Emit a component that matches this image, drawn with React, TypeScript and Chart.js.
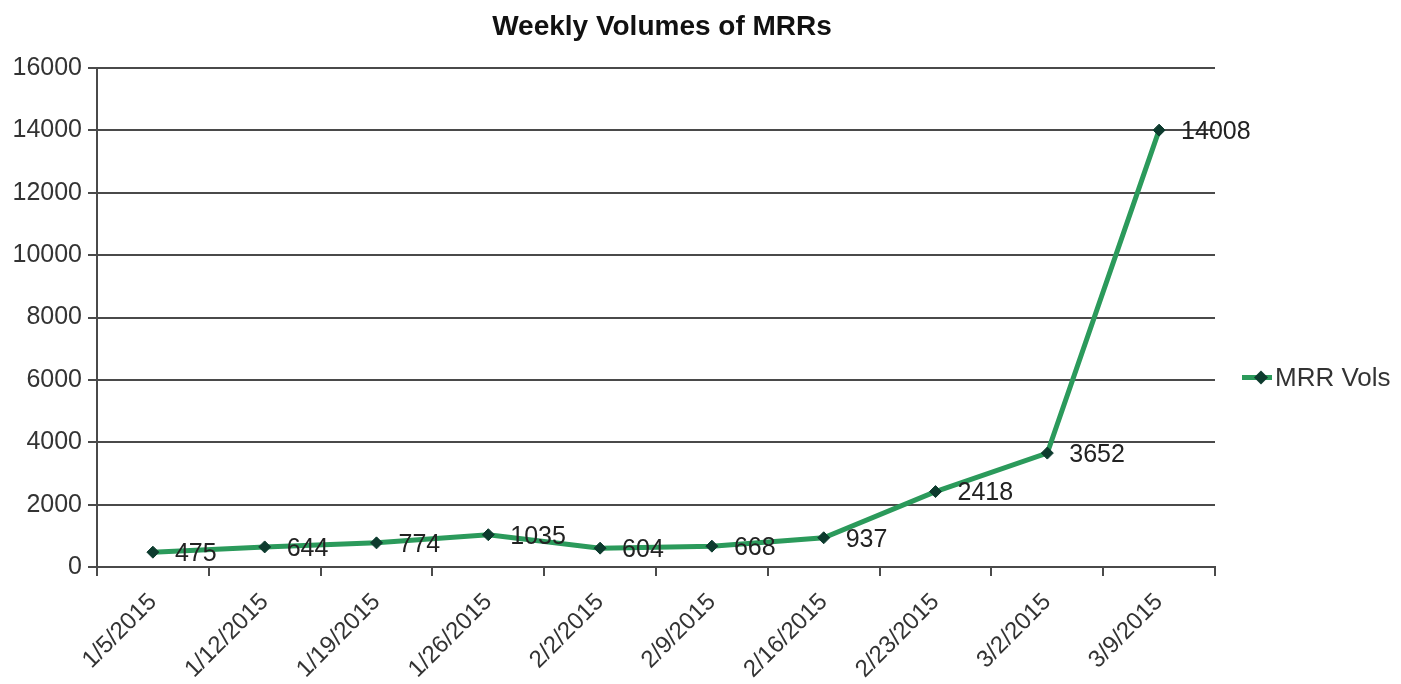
import React, { useEffect, useRef } from "react";
import { Chart, registerables } from "chart.js";

Chart.register(...registerables);

const categories = ["1/5/2015", "1/12/2015", "1/19/2015", "1/26/2015", "2/2/2015", "2/9/2015", "2/16/2015", "2/23/2015", "3/2/2015", "3/9/2015"];
const mrrVols = [475, 644, 774, 1035, 604, 668, 937, 2418, 3652, 14008];
const seriesName = "MRR Vols";
const chartTitle = "Weekly Volumes of MRRs";

const LINE = "#2b9a5b";
const MARK = "#0d3b2e";
const FONT = "'Liberation Sans', Arial, sans-serif";
const TEXT = "#333333";
const GRID = "#4a4a4a";

const overlayPlugin = {
  id: "overlay",
  afterDatasetsDraw(chart: any) {
    const ctx = chart.ctx;
    const meta = chart.getDatasetMeta(0);
    ctx.save();
    ctx.font = `25px ${FONT}`;
    ctx.fillStyle = "#222222";
    ctx.textAlign = "left";
    ctx.textBaseline = "middle";
    meta.data.forEach((pt: any, i: number) => {
      ctx.fillText(String(mrrVols[i]), pt.x + 22, pt.y + 2);
    });
    ctx.restore();
  },
  afterDraw(chart: any) {
    const ctx = chart.ctx;
    const area = chart.chartArea;
    ctx.save();
    // title
    ctx.font = `bold 28px ${FONT}`;
    ctx.fillStyle = "#111111";
    ctx.textAlign = "center";
    ctx.textBaseline = "middle";
    ctx.fillText(chartTitle, 662, 27);
    // legend
    const ly = (area.top + area.bottom) / 2 + 60;
    const lx = area.right + 27;
    ctx.strokeStyle = LINE;
    ctx.lineWidth = 5;
    ctx.beginPath();
    ctx.moveTo(lx, ly);
    ctx.lineTo(lx + 30, ly);
    ctx.stroke();
    ctx.fillStyle = MARK;
    ctx.beginPath();
    ctx.moveTo(lx + 19, ly - 7);
    ctx.lineTo(lx + 26, ly);
    ctx.lineTo(lx + 19, ly + 7);
    ctx.lineTo(lx + 12, ly);
    ctx.closePath();
    ctx.fill();
    ctx.font = `26px ${FONT}`;
    ctx.fillStyle = TEXT;
    ctx.textAlign = "left";
    ctx.fillText(seriesName, lx + 33, ly + 1);
    ctx.restore();
  },
};

export default function App() {
  const ref = useRef<HTMLCanvasElement>(null);
  useEffect(() => {
    if (!ref.current) return;
    const chart = new Chart(ref.current, {
      type: "line",
      data: {
        labels: categories,
        datasets: [
          {
            label: seriesName,
            data: mrrVols,
            borderColor: LINE,
            backgroundColor: MARK,
            borderWidth: 5,
            tension: 0,
            pointStyle: "rectRot",
            pointRadius: 6,
            pointBackgroundColor: MARK,
            pointBorderColor: MARK,
            pointBorderWidth: 1,
          },
        ],
      },
      plugins: [overlayPlugin],
      options: {
        responsive: false,
        animation: false,
        layout: { padding: { left: 0, right: 186, top: 68, bottom: 0 } },
        plugins: {
          legend: { display: false },
          title: { display: false },
          tooltip: { enabled: false },
        },
        scales: {
          x: {
            offset: true,
            grid: {
              display: true,
              offset: true,
              drawOnChartArea: false,
              drawTicks: true,
              tickLength: 9,
              color: GRID,
              lineWidth: 2,
            },
            border: { display: true, color: GRID, width: 2 },
            ticks: {
              minRotation: 45,
              maxRotation: 45,
              autoSkip: false,
              color: TEXT,
              font: { family: FONT, size: 24 },
              padding: 12,
            },
            afterFit(s: any) {
              s.height = 117;
            },
          },
          y: {
            min: 0,
            max: 16000,
            ticks: {
              stepSize: 2000,
              color: TEXT,
              font: { family: FONT, size: 25 },
              padding: 6,
              callback: (v: any) => String(v),
            },
            grid: {
              color: GRID,
              lineWidth: 2,
              drawTicks: true,
              tickLength: 9,
            },
            border: { display: true, color: GRID, width: 2 },
            afterFit(s: any) {
              s.width = 97;
            },
          },
        },
      },
    } as any);
    return () => chart.destroy();
  }, []);
  return (
    <div style={{ position: "fixed", left: 0, top: 0, width: 1401, height: 684, background: "#fff" }}>
      <canvas ref={ref} width={1401} height={684} style={{ display: "block", width: 1401, height: 684 }} />
    </div>
  );
}
